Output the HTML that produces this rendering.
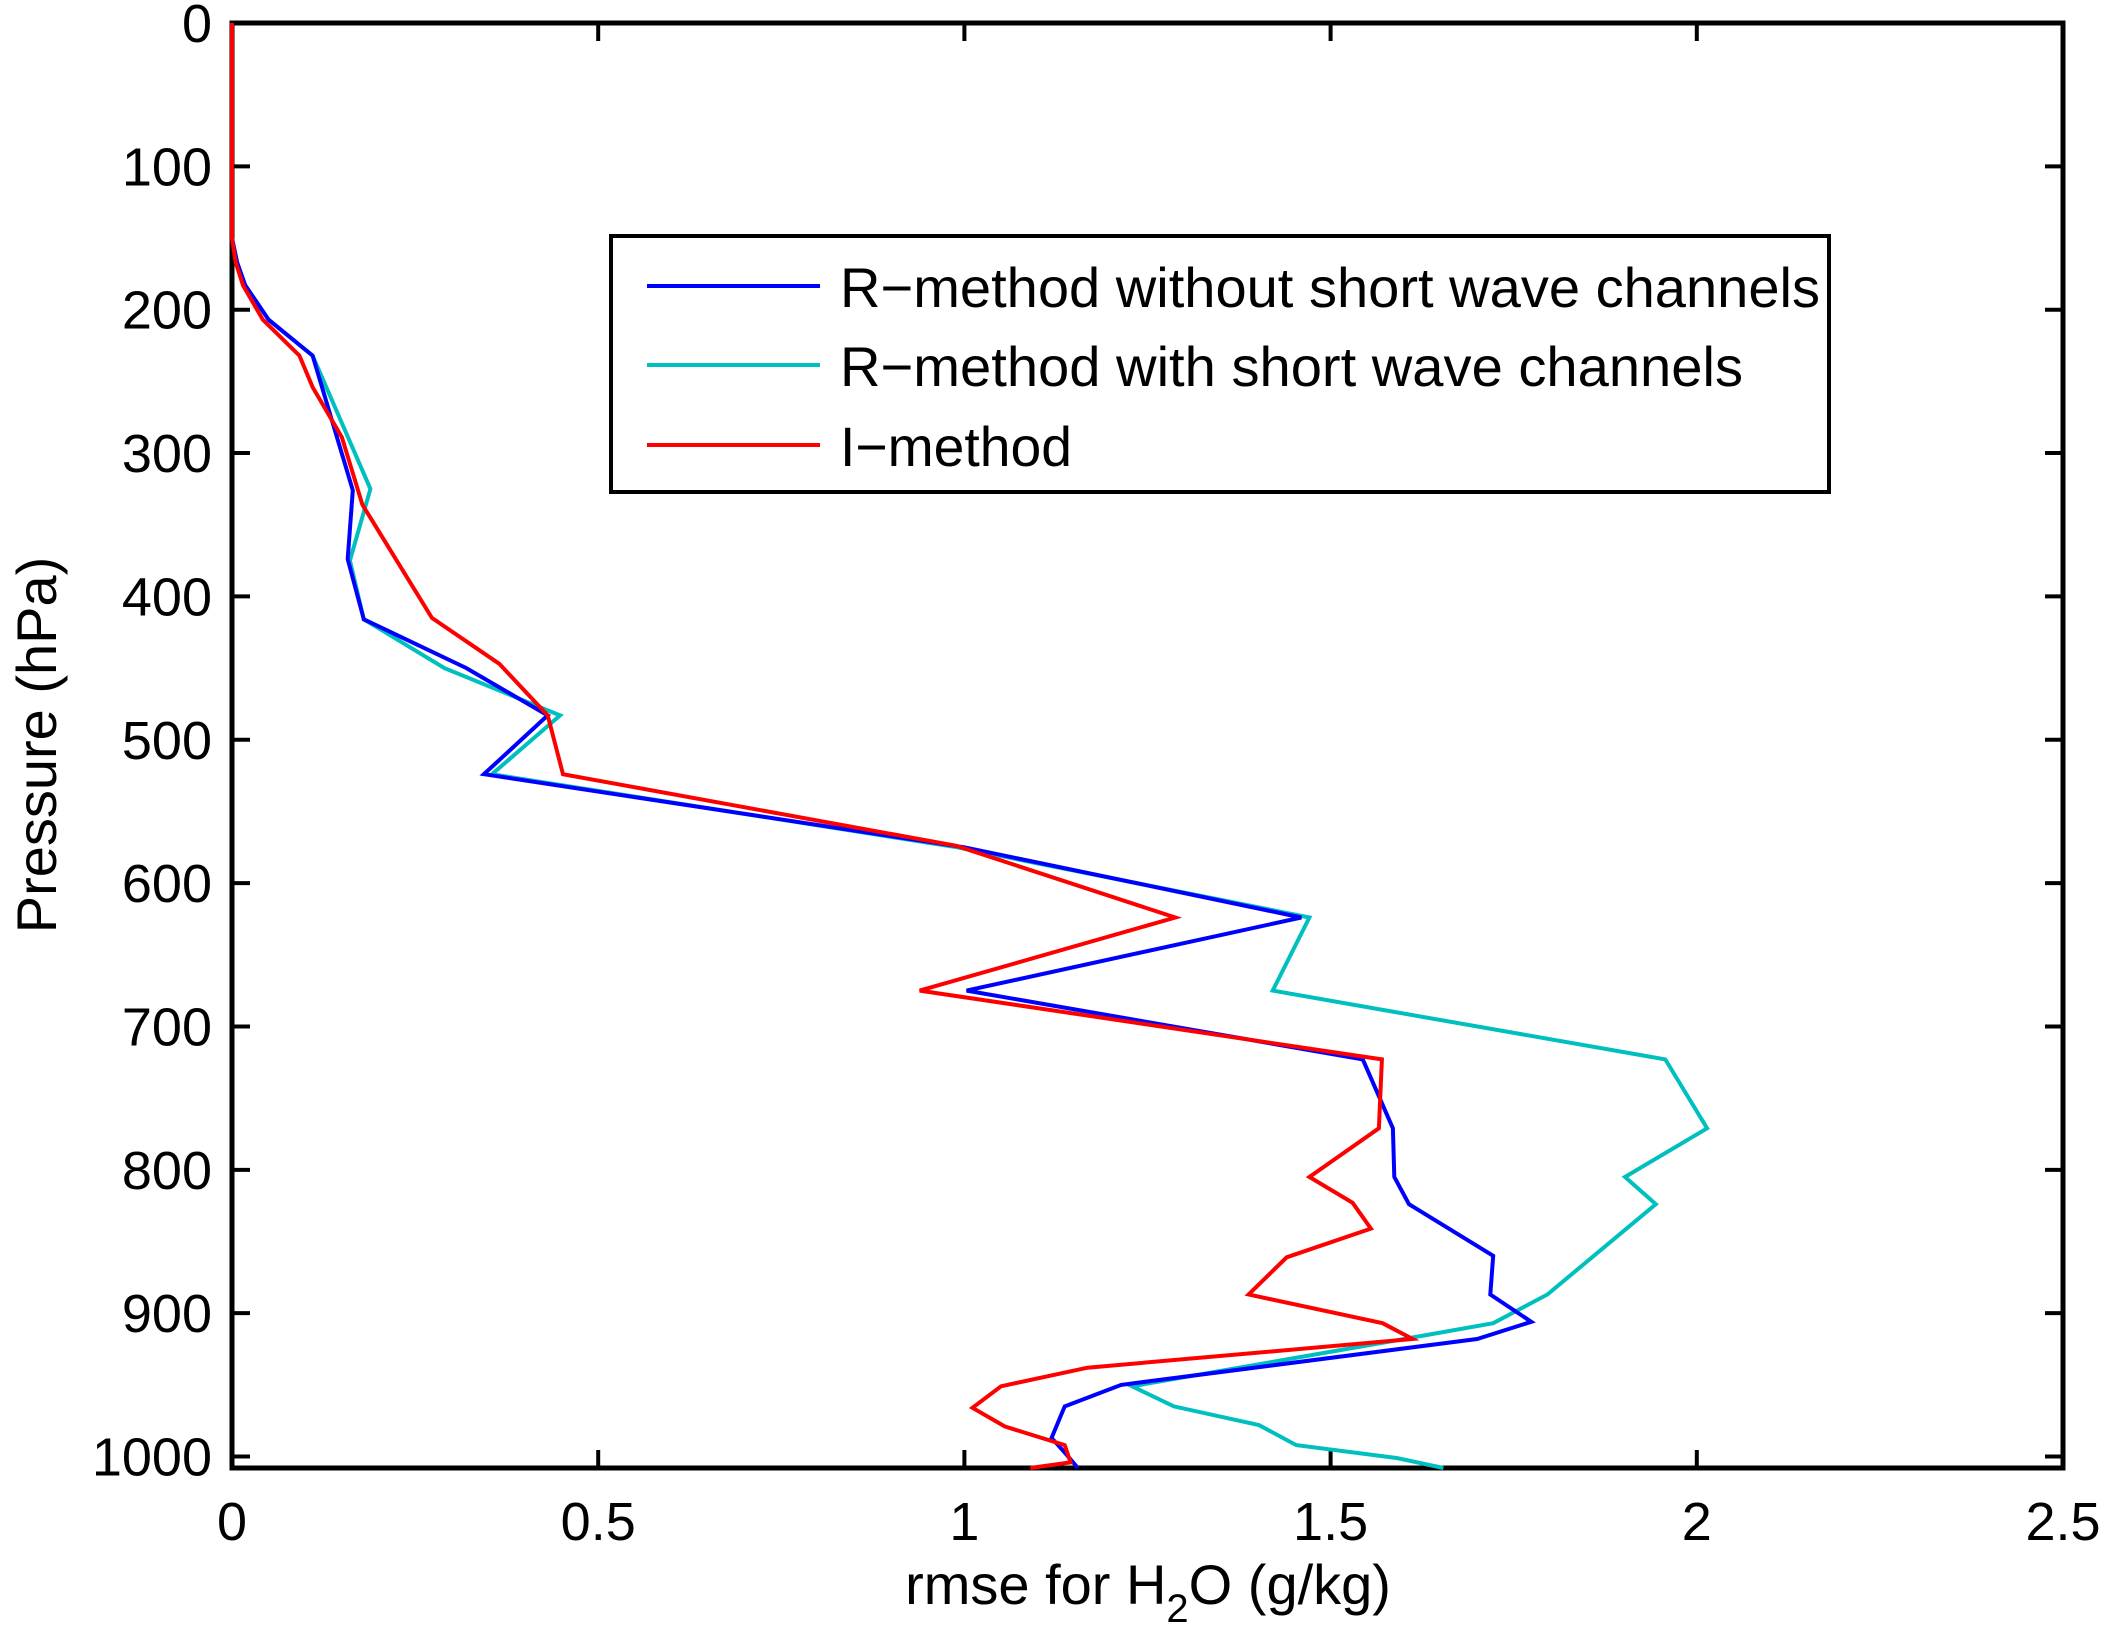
<!DOCTYPE html>
<html><head><meta charset="utf-8"><style>
html,body{margin:0;padding:0;background:#fff;}
svg{display:block;font-family:"Liberation Sans",sans-serif;}
</style></head><body>
<svg id="chart" width="2106" height="1642" viewBox="0 0 2106 1642" xmlns="http://www.w3.org/2000/svg">
<rect width="2106" height="1642" fill="#fff"/>
<g id="axes"></g>
<g id="series"></g>
<g id="legend"></g>
</svg>
<script>
const pBlue=[0,150,167,183,207,232,326,374,416,450,483,524,575,624,675,723,771,805,824,860,887,906,918,950,965,987,999,1008];
const xBlue=[0,0,0.007,0.018,0.05,0.11,0.165,0.158,0.18,0.32,0.431,0.344,1.0,1.46,1.003,1.544,1.585,1.587,1.607,1.722,1.718,1.774,1.70,1.214,1.137,1.119,1.14,1.155];
const pCyan=[0,150,167,183,207,232,325,375,416,450,483,524,575,624,675,723,771,805,824,887,907,917,951,965,978,992,1001,1008];
const xCyan=[0,0,0.007,0.018,0.05,0.11,0.189,0.161,0.18,0.29,0.448,0.355,0.99,1.471,1.421,1.957,2.014,1.902,1.944,1.796,1.722,1.612,1.229,1.286,1.402,1.453,1.59,1.654];
const pRed=[0,150,167,183,207,232,254,289,336,415,447,483,524,574,624,675,723,771,805,823,841,861,887,907,918,938,951,966,979,992,1004,1008];
const xRed=[0,0,0.005,0.015,0.042,0.092,0.11,0.15,0.178,0.273,0.365,0.431,0.452,0.989,1.288,0.939,1.57,1.566,1.471,1.53,1.555,1.44,1.388,1.571,1.612,1.168,1.05,1.011,1.055,1.137,1.145,1.09];
const xTicks=[0,0.5,1,1.5,2,2.5];
const xTickLabels=["0","0.5","1","1.5","2","2.5"];
const yTicks=[0,100,200,300,400,500,600,700,800,900,1000];
const yTickLabels=["0","100","200","300","400","500","600","700","800","900","1000"];
const seriesNames=["R\u2212method without short wave channels","R\u2212method with short wave channels","I\u2212method"];

const L=232,R=2063,T=23,B=1468,XMAX=2.5,YMAX=1008;
const sx=v=>L+v/XMAX*(R-L);
const sy=p=>T+p/YMAX*(B-T);
const NS="http://www.w3.org/2000/svg";
function mk(tag,attrs,parent){const e=document.createElementNS(NS,tag);for(const k in attrs)e.setAttribute(k,attrs[k]);parent.appendChild(e);return e;}
const axes=document.getElementById('axes');
const box=mk('rect',{x:L,y:T,width:R-L,height:B-T,fill:'none',stroke:'#000','stroke-width':5},axes);


xTicks.forEach((v,i)=>{
  const x=sx(v);
  const t1=mk('line',{x1:x,y1:B,x2:x,y2:B-18,stroke:'#000','stroke-width':4},axes);
  
  
  const t2=mk('line',{x1:x,y1:T,x2:x,y2:T+18,stroke:'#000','stroke-width':4},axes);
  
  
  const lb=mk('text',{x:x,y:1540,'font-size':54,'text-anchor':'middle'},axes);
  lb.textContent=xTickLabels[i];
  
  
});
yTicks.forEach((v,i)=>{
  const y=sy(v);
  const t1=mk('line',{x1:L,y1:y,x2:L+18,y2:y,stroke:'#000','stroke-width':4},axes);
  
  
  const t2=mk('line',{x1:R,y1:y,x2:R-18,y2:y,stroke:'#000','stroke-width':4},axes);
  
  
  const lb=mk('text',{x:212,y:y+19,'font-size':54,'text-anchor':'end'},axes);
  lb.textContent=yTickLabels[i];
  
  
});
const xl=mk('text',{x:1148,y:1604,'font-size':56,'text-anchor':'middle'},axes);
xl.innerHTML='rmse for H<tspan font-size="40" dy="18">2</tspan><tspan dy="-18">O (g/kg)</tspan>';


const yl=mk('text',{x:0,y:0,'font-size':56,'text-anchor':'middle',transform:'translate(56,745) rotate(-90)'},axes);
yl.textContent='Pressure (hPa)';



const ser=document.getElementById('series');
function drawLine(xs,ps,color,name){
  const pts=xs.map((v,i)=>sx(v).toFixed(1)+','+sy(ps[i]).toFixed(1)).join(' ');
  const pl=mk('polyline',{points:pts,fill:'none',stroke:color,'stroke-width':4,'stroke-linejoin':'miter'},ser);
  
  
}
drawLine(xCyan,pCyan,'#00bfbf','cyan-series-with-sw');
drawLine(xBlue,pBlue,'#0000ff','blue-series-without-sw');
drawLine(xRed,pRed,'#ff0000','red-series-i-method');

const lg=document.getElementById('legend');
const lbox=mk('rect',{x:611,y:236,width:1218,height:256,fill:'#fff',stroke:'#000','stroke-width':4},lg);


const cols=['#0000ff','#00bfbf','#ff0000'];
const widths=[980,903,232];
[286,365,445].forEach((y,i)=>{
  const ln=mk('line',{x1:647,y1:y,x2:820,y2:y,stroke:cols[i],'stroke-width':4},lg);
  
  
  const tx=mk('text',{x:840,y:y+21,'font-size':56,textLength:widths[i],lengthAdjust:'spacingAndGlyphs'},lg);
  tx.textContent=seriesNames[i];
  
  
});
</script>
</body></html>
